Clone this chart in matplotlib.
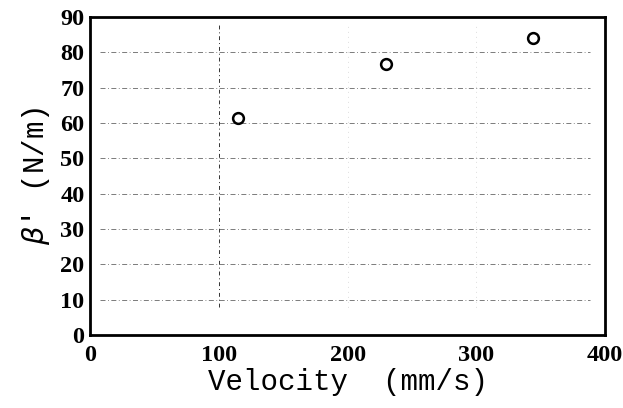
import matplotlib.pyplot as plt

# data
velocity = [115, 230, 344]
beta = [61.3, 76.7, 84.0]
x_ticks = [0, 100, 200, 300, 400]
y_ticks = [0, 10, 20, 30, 40, 50, 60, 70, 80, 90]

fig = plt.figure(figsize=(6.23, 4.08), dpi=100)
ax = fig.add_axes([0.1445, 0.179, 0.827, 0.779])

ax.scatter(velocity, beta, s=60, facecolors='white', edgecolors='black',
           linewidths=1.8, zorder=3)

# faint dash-dot grid like the scanned original
for yv in y_ticks[1:-1]:
    ax.plot([8, 388], [yv, yv], color='#666666', linewidth=0.6,
            linestyle=(0, (6, 3, 1, 3)), zorder=1)
ax.plot([100, 100], [8, 88], color='#333333', linewidth=0.7,
        linestyle=(0, (4, 3, 1, 3)), zorder=1)
for xv in [200, 300]:
    ax.plot([xv, xv], [8, 88], color='#999999', linewidth=0.4,
            linestyle=(0, (1, 8)), zorder=1)

ax.set_xlim(0, 400)
ax.set_ylim(0, 90)
ax.set_xticks(x_ticks)
ax.set_yticks(y_ticks)
ax.tick_params(axis='x', length=0, pad=7)
ax.tick_params(axis='y', length=0, pad=4)
for lab in ax.get_xticklabels() + ax.get_yticklabels():
    lab.set_fontfamily('Liberation Serif')
    lab.set_fontweight('bold')
    lab.set_fontsize(17.5)

for sp in ax.spines.values():
    sp.set_linewidth(2)
    sp.set_color('black')

ax.set_xlabel('Velocity  (mm/s)', fontfamily='Liberation Mono',
              fontsize=21, labelpad=2)
ax.set_ylabel(r"$\beta$' (N/m)", fontfamily='Liberation Mono',
              fontsize=21, labelpad=6)

plt.savefig('out.png', dpi=100)
